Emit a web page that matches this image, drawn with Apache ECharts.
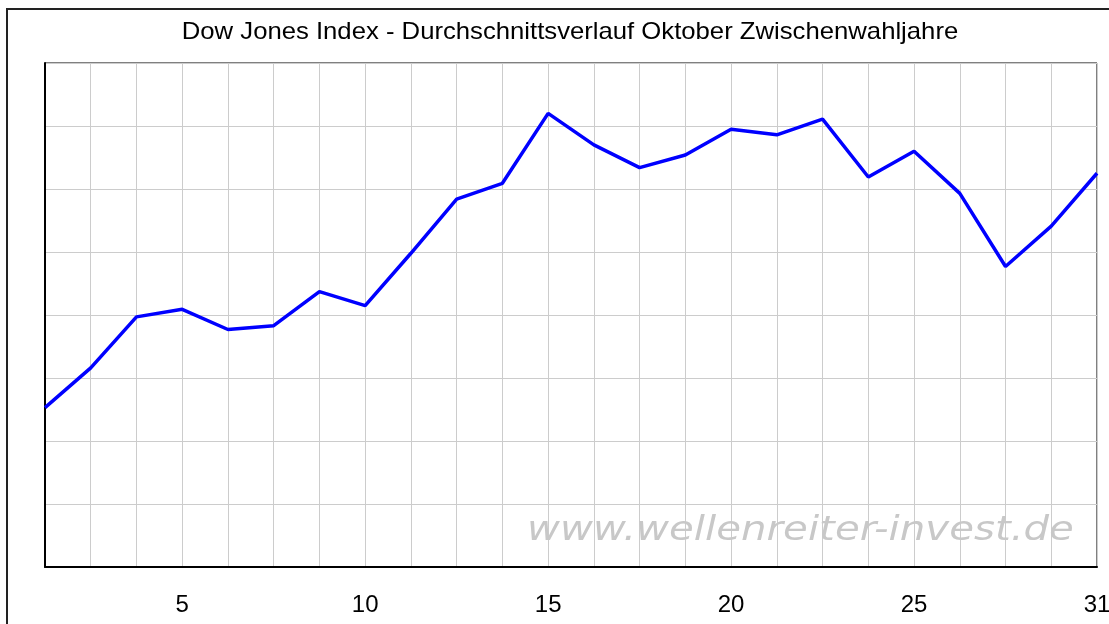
<!DOCTYPE html>
<html>
<head>
<meta charset="utf-8">
<script src="https://cdn.jsdelivr.net/npm/echarts@6/dist/echarts.min.js"></script>
<style>
  html, body { margin: 0; padding: 0; background: #fff; }
  #chart { width: 1109px; height: 624px; }
</style>
</head>
<body>
<div id="chart"></div>
<script>
// trading days in October (category axis), only some are labelled
const days = [1, 2, 3, 5, 6, 7, 9, 10, 11, 12, 14, 15, 16, 17, 19, 20, 21, 22, 24, 25, 26, 28, 30, 31];
const shownDays = [5, 10, 15, 20, 25, 31];
// average course, arbitrary units (y axis is unlabelled)
const avgCourse = [2.53, 3.16, 3.97, 4.09, 3.77, 3.83, 4.37, 4.15, 4.98, 5.84, 6.09, 7.2,
  6.7, 6.34, 6.54, 6.95, 6.86, 7.11, 6.19, 6.6, 5.93, 4.77, 5.41, 6.25];
const titleText = "Dow Jones Index - Durchschnittsverlauf Oktober Zwischenwahljahre";
const watermark = "www.wellenreiter-invest.de";

const chart = echarts.init(document.getElementById("chart"));
const gridColor = "#cccccc";

const option = {
  animation: false,
  textStyle: { fontFamily: "Liberation Sans, Arial, sans-serif" },
  grid: {
    left: 45,
    right: 12,
    top: 63,
    bottom: 57,
    outerBoundsMode: "none",
    show: true,
    borderColor: "#000",
    borderWidth: 1
  },
  xAxis: {
    type: "category",
    data: days,
    boundaryGap: false,
    axisLine: { lineStyle: { color: "#000", width: 2 } },
    axisTick: { show: false },
    axisLabel: {
      interval: (i, v) => shownDays.includes(Number(v)),
      margin: 26,
      fontSize: 24,
      color: "#000"
    },
    splitLine: { show: true, interval: 0, lineStyle: { color: gridColor, width: 1 } }
  },
  yAxis: {
    type: "value",
    min: 0,
    max: 8,
    interval: 1,
    axisLine: { show: true, lineStyle: { color: "#000", width: 2 } },
    axisTick: { show: false },
    axisLabel: { show: false },
    splitLine: { lineStyle: { color: gridColor, width: 1 } }
  },
  graphic: [
    {
      type: "rect",
      shape: { x: 7, y: 9, width: 1200, height: 700 },
      style: { fill: "none", stroke: "#222", lineWidth: 2 },
      silent: true
    },
    {
      // title, slightly stretched like the original
      type: "text",
      x: 570,
      y: 32,
      scaleX: 1.07,
      style: {
        text: titleText,
        font: "24px 'Liberation Sans'",
        fill: "#000",
        align: "center",
        verticalAlign: "middle"
      },
      silent: true
    },
    {
      type: "text",
      x: 527,
      y: 531,
      scaleX: 1.185,
      z: 1,
      style: {
        text: watermark,
        font: "italic 34px 'DejaVu Sans'",
        fill: "#c8c8c8",
        align: "left",
        verticalAlign: "middle"
      },
      silent: true
    }
  ],
  series: [
    {
      type: "line",
      data: avgCourse,
      symbol: "none",
      lineStyle: { color: "#0000ff", width: 3.5 },
      z: 5
    }
  ]
};
chart.setOption(option);
window.addEventListener("resize", chart.resize);
</script>
</body>
</html>
